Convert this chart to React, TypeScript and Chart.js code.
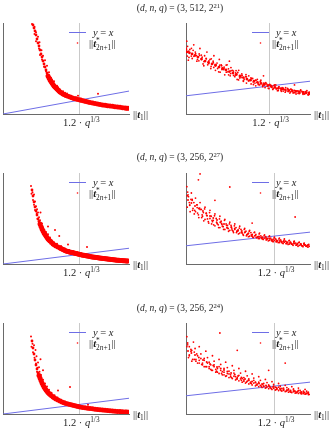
import React, { useEffect, useRef } from "react";
import { Chart, registerables } from "chart.js";
Chart.register(...registerables);

// ---------- titles ----------
const TITLE_Q_EXP = ["21", "27", "24"];
const TITLE_N = ["512", "256", "256"];

// ---------- 1.2 * q^(1/3) per row ----------
const VLINE = [153.6, 614.4, 307.2];

// ---------- Row 1 (q = 2^21) left ----------
const r1L_core: number[][] = [
  [60,979],[62,946],[64,913],[66,869],[68,825],[70,781],[72,748],[74,704],[76,660],[78,627],[80,583],[82,550],[84,517],[86,484],[88,451],[90,418],[92,396],[94,374],[96,357],[98,341],[100,324],[102,308],[104,297],[106,286],[108,275],[110,264],[112,253],[114,242],[117,231],[120,220],[123,212],[126,204],[130,195],[134,187],[138,179],[142,171],[146,165],[150,160],[154,154],[158,149],[162,143],[166,138],[170,132],[174,127],[179,121],[184,116],[189,110],[194,105],[199,100],[204,96],[209,92],[214,88],[219,84],[224,80],[229,77],[234,74],[239,70],[244,66],[247,64],[250,63]
];
const r1L_spread: number[][] = [
  [58,990],[63,960],[66,900],[63,880],[70,850],[66,800],[73,790],[72,720],[77,700],[74,650],[80,640],[78,600],[84,590],[82,520],[88,530],[86,470],[92,460],[90,400],[96,400],[94,350],[102,360],[100,320],[108,310],[106,270],[114,270],[112,240],[120,250],[118,210],[128,225],[126,190],[136,200],[134,175],[146,185],[142,160],[156,170],[154,140],[166,150],[168,128],[180,135],[178,112],[192,120],[194,98],[206,108],[206,86],[218,98],[218,78],[230,88],[232,68],[244,78],[246,58],[190,222],[150,200],[98,380],[110,295],[124,235]
];

// ---------- Row 1 right ----------
const r1R_core: number[][] = [
  [100.6,341],[102.2,336],[103.9,330],[105.8,322],[107.7,313],[110,302],[112.3,291],[114.5,283],[116.8,275],[119,266],[121.3,258],[123.5,250],[125.8,242],[128,233],[130.3,225],[132.5,217],[134.8,209],[137,200],[139.3,192],[141.6,186],[143.9,181],[146.1,174],[148.4,168],[150.6,162],[152.9,157],[155.1,151],[157.4,146],[159.6,141],[161.9,137],[164.1,133],[166.4,129],[168.6,126],[170.9,124],[173.2,121],[175.5,118],[177.4,116],[179.3,115]
];
const r1R_spread: number[][] = [
  [100.5,400],[101,372],[100.8,318],[101.5,296],[102.5,355],[104,305],[105,380],[106,340],[107,290],[108.5,330],[109,360],[110,300],[111,275],[112,320],[113.5,340],[114,270],[115.5,300],[116,250],[117.5,290],[118,320],[119,240],[120,280],[121.5,300],[122,230],[123,265],[124.5,250],[125,215],[126.5,270],[127,232],[128.5,210],[129,255],[130,240],[131.5,205],[132,226],[133,190],[134,240],[135.5,200],[136,220],[137,180],[138.5,205],[139,170],[140.5,210],[141,185],[142,165],[143,195],[144.5,170],[145,155],[146,190],[147.5,160],[148,180],[149.5,150],[150,170],[151,145],[152,165],[153.5,140],[154,160],[155,150],[156,135],[157,160],[158.5,140],[159,128],[160,150],[161.5,125],[162,145],[163,135],[164,120],[165.5,140],[166,125],[167,115],[168,135],[169.5,118],[170,130],[171,110],[172.5,125],[173,112],[174,132],[175.5,108],[176,122],[177,114],[178,128],[179,105],[179.5,120],[128,290],[150,210],[170,160]
];
const r1R_extra: number[][] = [
  [100.2,360],[101.8,345],[103.4,318],[104.6,350],[106.2,332],[107.4,300],[108.8,322],[110.4,312],[111.6,288],[113,305],[114.8,292],[116.2,262],[117.6,282],[118.8,272],[120.4,250],[121.8,268],[123.2,244],[124.6,258],[126,230],[127.4,248],[128.8,222],[130.6,236],[131.8,214],[133.4,228],[134.6,198],[136.2,212],[137.6,192],[139,204],[140.4,182],[142.2,194],[143.4,176],[145,186],[146.6,166],[148,176],[149.4,158],[151,170],[152.4,152],[154,162],[155.4,146],[156.8,155],[158.2,138],[159.8,148],[161.2,132],[162.8,142],[164.4,127],[165.8,136],[167.4,121],[168.8,131],[170.2,117],[171.8,127],[173.4,114],[174.8,124],[176.4,110],[177.8,120],[179.6,110]
];
const r1R_more: number[][] = [
  [100.3,354],[101.9,311],[103.5,361],[105.1,317],[106.7,321],[108.3,292],[109.9,324],[111.5,265],[113.1,303],[114.7,277],[116.3,303],[117.9,256],[119.5,270],[121.1,232],[122.7,270],[124.3,244],[125.9,269],[127.5,215],[129.1,238],[130.7,212],[132.3,238],[133.9,187],[135.5,210],[137.1,184],[138.7,216],[140.3,184],[141.9,199],[143.5,162],[145.1,185],[146.7,161],[148.3,186],[149.9,160],[151.5,172],[153.1,141],[154.7,158],[156.3,140],[157.9,160],[159.5,129],[161.1,142],[162.7,126],[164.3,145],[165.9,124],[167.5,137],[169.1,116],[170.7,127],[172.3,114],[173.9,130],[175.5,113],[177.1,123],[178.7,106]
];

// ---------- Row 2 (q = 2^27) left ----------
const r2L_core: number[][] = [
  [232,4736],[240,4352],[248,3968],[256,3648],[264,3392],[272,3136],[280,2880],[288,2720],[296,2560],[304,2400],[312,2240],[320,2110],[328,1984],[336,1890],[344,1792],[352,1700],[360,1600],[368,1536],[376,1472],[388,1376],[400,1280],[412,1216],[424,1152],[440,1088],[456,1024],[464,992],[472,960],[480,928],[488,896],[496,864],[504,840],[512,816],[520,800],[528,784],[536,760],[544,748],[552,736],[560,720],[568,700],[576,688],[584,672],[592,656],[600,640],[608,624],[616,608],[624,596],[632,584],[640,568],[648,556],[656,544],[664,532],[672,520],[680,508],[688,492],[696,480],[704,468],[712,456],[720,448],[728,438],[736,429],[744,420],[752,410],[760,400],[768,392],[776,384],[784,376],[792,366],[800,358],[808,348],[816,339],[824,332],[832,324],[840,316],[848,308],[856,301],[864,294],[872,286],[880,278],[888,270],[896,262],[904,256],[912,248],[920,242],[928,236],[936,230],[944,226],[952,220],[960,214],[968,210],[976,205],[984,200],[992,196],[1000,192]
];
const r2L_spread: number[][] = [
  [224,4990],[236,4600],[228,4500],[248,4450],[240,4100],[256,4000],[248,3800],[264,3700],[256,3450],[272,3500],[270,3250],[280,3300],[288,3000],[276,2900],[296,2800],[288,2650],[312,2600],[304,2400],[320,2350],[330,2200],[316,2100],[344,2050],[336,1850],[360,1900],[352,1700],[376,1700],[370,1550],[392,1500],[384,1350],[408,1400],[416,1200],[432,1300],[440,1100],[464,1150],[472,950],[496,1000],[504,850],[528,900],[536,760],[560,820],[568,690],[592,760],[600,640],[624,690],[632,580],[660,620],[668,520],[700,560],[706,450],[740,500],[748,400],[780,450],[790,360],[820,400],[830,320],[860,360],[870,280],[900,320],[910,240],[940,280],[950,210],[980,250],[990,180],[416,2176],[672,1088],[450,1800],[360,2400],[300,3300],[520,1250]
];

// ---------- Row 2 right ----------
const r2R_core: number[][] = [
  [404.8,1407],[413,1340],[421.8,1275],[431,1220],[441,1165],[449,1110],[458,1055],[466,1010],[475,967],[483,920],[492,879],[500,845],[509.5,813],[518,780],[526,747],[535,725],[543,703],[551,675],[560,648],[568,625],[576.6,604],[585,588],[593.5,571],[602,555],[610.5,538],[619,520],[627,505],[636,494],[644,484],[652,473],[661,462],[669,451],[678,440],[686,429],[695,418]
];
const r2R_spread: number[][] = [
  [402,1700],[404,1580],[403,1250],[406,1480],[408,1350],[410,1150],[413,1560],[415,1400],[417,1220],[420,1100],[423,1450],[426,1300],[428,1120],[431,1020],[434,1350],[437,1200],[440,1050],[443,950],[446,1250],[449,1120],[452,990],[455,900],[458,1180],[461,1050],[464,930],[467,860],[470,1100],[473,1000],[476,880],[479,800],[482,1050],[485,940],[488,830],[491,760],[494,980],[497,880],[500,790],[503,720],[506,920],[509,850],[512,740],[515,690],[518,880],[521,800],[524,720],[527,660],[530,830],[533,760],[536,680],[539,630],[542,780],[545,720],[548,650],[551,600],[554,740],[557,690],[560,610],[563,580],[566,700],[569,650],[572,590],[575,560],[578,680],[581,620],[584,570],[587,540],[590,640],[593,600],[596,550],[599,510],[602,620],[605,570],[608,520],[611,490],[614,590],[617,550],[620,500],[623,470],[626,570],[629,530],[632,490],[635,450],[638,550],[641,500],[644,460],[647,430],[650,520],[653,480],[656,440],[659,410],[662,500],[665,460],[668,420],[671,390],[674,480],[677,440],[680,400],[683,380],[686,460],[689,420],[692,390],[695,370],[434,1980],[506,1692],[664,1033],[430,1850],[470,1400],[560,900]
];
const r2R_extra: number[][] = [
  [405,1520],[409,1300],[412,1420],[416,1180],[419,1350],[423,1150],[427,1240],[430,1080],[434,1200],[438,1020],[442,1130],[446,980],[450,1070],[454,930],[458,1000],[462,880],[466,960],[470,840],[474,920],[478,860],[482,800],[486,890],[490,820],[494,760],[498,850],[502,780],[506,740],[510,800],[514,720],[518,760],[522,690],[526,730],[530,680],[534,700],[538,650],[542,690],[546,620],[550,660],[554,610],[558,640],[562,590],[566,620],[570,580],[574,600],[578,560],[582,590],[586,550],[590,570],[594,530],[598,560],[602,520],[606,540],[610,500],[614,520],[618,490],[622,510],[626,470],[630,500],[634,460],[638,480],[642,450],[646,470],[650,440],[654,460],[658,430],[662,450],[666,415],[670,440],[674,410],[678,425],[682,400],[686,415],[690,395],[694,405],[698,390]
];
const r2R_more: number[][] = [
  [403,1500],[409,1290],[415,1420],[421,1180],[427,1300],[433,1230],[439,1080],[445,1210],[451,1060],[457,1130],[463,960],[469,1060],[475,900],[481,990],[487,870],[493,960],[499,800],[505,880],[511,770],[517,840],[523,720],[529,790],[535,690],[541,760],[547,640],[553,720],[559,620],[565,690],[571,580],[577,660],[583,560],[589,620],[595,540],[601,600],[607,510],[613,570],[619,490],[625,550],[631,470],[637,520],[643,450],[649,510],[655,440],[661,490],[667,420],[673,470],[679,410],[685,450],[691,395],[697,430]
];

// ---------- Row 3 (q = 2^24) left ----------
const r3L_core: number[][] = [
  [116,2336],[120,2112],[124,1920],[128,1728],[132,1568],[136,1440],[140,1312],[144,1230],[148,1152],[152,1070],[156,992],[160,925],[164,864],[168,815],[172,768],[176,725],[180,688],[184,655],[188,624],[194,584],[200,544],[206,512],[212,480],[220,448],[228,416],[236,388],[244,362],[252,340],[260,320],[268,304],[276,288],[284,272],[292,256],[300,240],[308,224],[318,211],[328,198],[338,187],[348,176],[358,165],[368,154],[378,144],[388,134],[398,126],[408,118],[418,110],[428,102],[438,96],[448,90],[458,83],[468,77],[478,70],[488,64],[494,61],[500,58]
];
const r3L_spread: number[][] = [
  [112,2480],[118,2250],[114,2150],[124,2200],[120,1980],[130,2050],[126,1800],[134,1850],[132,1620],[140,1650],[138,1480],[144,1500],[146,1350],[136,1350],[152,1250],[144,1200],[160,1100],[152,1050],[168,980],[160,900],[176,880],[170,800],[184,780],[178,720],[194,680],[188,600],[206,600],[200,520],[218,530],[214,460],[232,460],[230,390],[248,400],[246,340],[264,350],[262,300],[280,320],[280,270],[296,285],[298,240],[312,250],[316,210],[332,220],[336,185],[352,195],[356,160],[372,175],[376,140],[392,150],[396,120],[412,135],[416,105],[432,115],[436,90],[452,100],[456,78],[472,88],[476,66],[492,74],[496,52],[268,864],[150,1750],[160,1400],[340,300],[220,750]
];

// ---------- Row 3 right ----------
const r3R_core: number[][] = [
  [202.4,692],[206.5,670],[210.9,648],[215.5,620],[220.6,593],[225,572],[229,550],[233,534],[237.5,517],[242,500],[246,484],[250,468],[254.5,451],[259,435],[263,418],[267,402],[271.4,385],[275.5,371],[279.9,357],[284,346],[288.3,335],[292.5,324],[296.8,313],[301,305],[305.3,297],[309.5,288],[313.7,280],[318,272],[322.2,264],[326.5,258],[330.7,253],[335,247],[339.2,242],[343.5,236],[347.6,231]
];
const r3R_spread: number[][] = [
  [201,850],[202,780],[203,620],[204,740],[206,690],[207,580],[209,790],[211,720],[212,600],[214,560],[216,740],[218,660],[220,560],[222,520],[224,690],[226,620],[228,520],[230,490],[232,640],[234,580],[236,490],[238,460],[240,600],[242,545],[244,465],[246,430],[248,570],[250,510],[252,440],[254,410],[256,530],[258,480],[260,410],[262,385],[264,500],[266,450],[268,390],[270,360],[272,470],[274,420],[276,370],[278,340],[280,440],[282,395],[284,350],[286,320],[288,410],[290,370],[292,330],[294,305],[296,380],[298,345],[300,310],[302,290],[304,355],[306,325],[308,295],[310,275],[312,335],[314,305],[316,280],[318,260],[320,315],[322,290],[324,265],[326,245],[328,300],[330,275],[332,250],[334,235],[336,285],[338,260],[340,240],[342,225],[344,270],[346,250],[348,230],[349,215],[199,835],[241,890],[320,560],[262,700],[300,480]
];
const r3R_extra: number[][] = [
  [202,760],[204,650],[206,710],[208,600],[210,680],[212,580],[214,640],[216,560],[218,610],[220,540],[222,590],[224,520],[226,560],[228,500],[230,540],[232,480],[234,520],[236,460],[238,500],[240,445],[242,480],[244,430],[246,460],[248,415],[250,445],[252,400],[254,430],[256,390],[258,415],[260,375],[262,400],[264,365],[266,385],[268,350],[270,375],[272,340],[274,360],[276,330],[278,350],[280,320],[282,340],[284,310],[286,330],[288,300],[290,315],[292,292],[294,305],[296,285],[298,298],[300,278],[302,290],[304,270],[306,282],[308,264],[310,276],[312,258],[314,268],[316,252],[318,262],[320,246],[322,256],[324,240],[326,250],[328,236],[330,245],[332,230],[334,240],[336,226],[338,236],[340,222],[342,232],[344,218],[346,228],[348,214]
];
const r3R_more: number[][] = [
  [201,740],[204,640],[207,700],[210,600],[213,660],[216,590],[219,545],[222,610],[225,520],[228,570],[231,480],[234,540],[237,470],[240,520],[243,445],[246,500],[249,420],[252,470],[255,400],[258,450],[261,385],[264,425],[267,370],[270,400],[273,350],[276,385],[279,335],[282,370],[285,320],[288,350],[291,305],[294,335],[297,290],[300,320],[303,280],[306,305],[309,268],[312,295],[315,258],[318,285],[321,250],[324,275],[327,240],[330,265],[333,232],[336,258],[339,225],[342,250],[345,220],[348,240]
];

// ---------- axis ranges ----------
const X_RANGE_L = [[0, 252], [0, 1008], [0, 504]];
const Y_RANGE_L = [[0, 1001], [0, 5824], [0, 2912]];
const X_RANGE_R = [[100, 180], [400, 700], [200, 350]];
const Y_RANGE_R = [[0, 500], [0, 2000], [0, 1000]];

const RED = "#ff0000";
const BLUE = "#6e6ee6";
const AXIS = "#6a6a6a";
const TEXT = "#1e1e1e";
const FONT = '"Liberation Serif", "DejaVu Serif", serif';

type Seg = { t: string; f?: "i" | "bi"; p?: "sup" | "sub"; back?: boolean };

function drawRich(ctx: CanvasRenderingContext2D, segs: Seg[], x: number, y: number, align: "left" | "center", size: number) {
  const placed: { t: string; font: string; x: number; dy: number }[] = [];
  let cur = 0, end = 0, lastStart = 0;
  for (const s of segs) {
    const sz = s.p ? size * 0.7 : size;
    const font = `${s.f === "i" ? "italic " : s.f === "bi" ? "italic bold " : ""}${sz}px ${FONT}`;
    ctx.font = font;
    const w = ctx.measureText(s.t).width;
    if (s.back) cur = lastStart;
    else if (!s.p) cur = Math.max(cur, end);
    const start = cur;
    const dy = s.p === "sup" ? -size * 0.38 : s.p === "sub" ? size * 0.24 : 0;
    placed.push({ t: s.t, font, x: start, dy });
    lastStart = start;
    cur = start + w;
    end = Math.max(end, cur);
  }
  const ox = align === "center" ? x - end / 2 : x;
  ctx.fillStyle = TEXT;
  ctx.textBaseline = "alphabetic";
  ctx.textAlign = "left";
  for (const p of placed) {
    ctx.font = p.font;
    ctx.fillText(p.t, ox + p.x, y + p.dy);
  }
}

const panelText = {
  id: "panelText",
  afterDraw(chart: any, _args: any, opts: any) {
    const { ctx, chartArea: a, scales } = chart;
    const sz = 10.5;
    ctx.save();
    // legend: line sample
    ctx.strokeStyle = BLUE;
    ctx.lineWidth = 1;
    ctx.beginPath();
    ctx.moveTo(a.left + 66, a.top + 9.5);
    ctx.lineTo(a.left + 83, a.top + 9.5);
    ctx.stroke();
    drawRich(ctx, [{ t: "y", f: "i" }, { t: " = " }, { t: "x", f: "i" }], a.left + 90, a.top + 13, "left", sz);
    // legend: scatter sample
    ctx.fillStyle = RED;
    ctx.beginPath();
    ctx.arc(a.left + 74.5, a.top + 20, 0.8, 0, Math.PI * 2);
    ctx.fill();
    drawRich(ctx, [
      { t: "||" }, { t: "t", f: "bi" }, { t: "*", p: "sup" },
      { t: "2", p: "sub", back: true }, { t: "n", p: "sub", f: "i" }, { t: "+1", p: "sub" },
      { t: "||" },
    ], a.left + 86, a.top + 24, "left", sz);
    // x-axis label
    drawRich(ctx, [{ t: "||" }, { t: "t", f: "bi" }, { t: "1", p: "sub" }, { t: "||" }], a.right + 4, a.bottom + 3.5, "left", sz);
    // tick label under the vertical line
    const px = scales.x.getPixelForValue(opts.v);
    drawRich(ctx, [{ t: "1.2" }, { t: " \u00b7 " }, { t: "q", f: "i" }, { t: "1/3", p: "sup" }], px + 1.5, a.bottom + 11.5, "center", sz);
    ctx.restore();
  },
};

type PanelCfg = {
  left: number; top: number; w: number; h: number;
  pl: number; pr: number; pb: number;
  xr: number[]; yr: number[]; v: number;
  core: number[][]; spread: number[][]; coreR: number; upperR: number; spreadR: number;
};

function Panel({ cfg }: { cfg: PanelCfg }) {
  const ref = useRef<HTMLCanvasElement>(null);
  useEffect(() => {
    const toPts = (arr: number[][]) => arr.map(([x, y]) => ({ x, y }));
    const span = cfg.yr[1] - cfg.yr[0];
    const coreRadius = (c: any) => {
      const raw = c.raw;
      if (!raw) return cfg.coreR;
      return (raw.y - cfg.yr[0]) / span > 0.45 ? cfg.upperR : cfg.coreR;
    };
    const chart = new Chart(ref.current as HTMLCanvasElement, {
      type: "scatter",
      data: {
        datasets: [
          { data: toPts(cfg.core), backgroundColor: RED, borderWidth: 0, pointRadius: coreRadius, pointHoverRadius: 0 } as any,
          { data: toPts(cfg.spread), backgroundColor: RED, borderWidth: 0, pointRadius: cfg.spreadR, pointHoverRadius: 0 } as any,
          {
            data: [{ x: cfg.xr[0], y: cfg.xr[0] }, { x: cfg.xr[1], y: cfg.xr[1] }],
            showLine: true, borderColor: BLUE, borderWidth: 1, pointRadius: 0, pointHoverRadius: 0,
          } as any,
        ],
      },
      options: {
        responsive: false,
        maintainAspectRatio: false,
        animation: false,
        events: [],
        layout: { padding: { left: cfg.pl, right: cfg.pr, top: 23, bottom: cfg.pb } },
        plugins: {
          legend: { display: false },
          tooltip: { enabled: false },
          panelText: { v: cfg.v },
        } as any,
        scales: {
          x: {
            type: "linear", min: cfg.xr[0], max: cfg.xr[1],
            afterBuildTicks: (s: any) => { s.ticks = [{ value: cfg.v }]; },
            ticks: { display: false },
            grid: { display: true, drawTicks: false, color: "#c9c9c9", lineWidth: 1 },
            border: { display: true, color: AXIS, width: 1 },
          },
          y: {
            type: "linear", min: cfg.yr[0], max: cfg.yr[1],
            ticks: { display: false },
            grid: { display: false, drawTicks: false },
            border: { display: true, color: AXIS, width: 1 },
          },
        } as any,
      },
      plugins: [panelText as any],
    });
    return () => chart.destroy();
  }, []);
  return (
    <canvas
      ref={ref}
      width={cfg.w}
      height={cfg.h}
      style={{ position: "absolute", left: cfg.left, top: cfg.top, width: cfg.w, height: cfg.h }}
    />
  );
}

const CORES_L = [r1L_core, r2L_core, r3L_core];
const SPREADS_L = [r1L_spread, r2L_spread, r3L_spread];
const CORES_R = [r1R_core, r2R_core, r3R_core];
const SPREADS_R = [
  r1R_spread.concat(r1R_extra, r1R_more),
  r2R_spread.concat(r2R_extra, r2R_more),
  r3R_spread.concat(r3R_extra, r3R_more),
];

export default function App() {
  const panels: PanelCfg[] = [];
  for (let r = 0; r < 3; r++) {
    const h = r === 2 ? 133 : 150;
    const pb = h - 114;
    panels.push({
      left: 0, top: r * 150, w: 167, h, pl: 3, pr: 38, pb,
      xr: X_RANGE_L[r], yr: Y_RANGE_L[r], v: VLINE[r],
      core: CORES_L[r], spread: SPREADS_L[r], coreR: 2.5, upperR: 1.4, spreadR: 1,
    });
    const rr = r === 0 ? 1.4 : 1.0;
    panels.push({
      left: 167, top: r * 150, w: 168, h, pl: 19, pr: 25, pb,
      xr: X_RANGE_R[r], yr: Y_RANGE_R[r], v: VLINE[r],
      core: CORES_R[r], spread: SPREADS_R[r], coreR: rr, upperR: rr, spreadR: 0.9,
    });
  }
  const titleTops = [3, 152, 303];
  return (
    <div style={{ position: "absolute", left: 0, top: 0, width: 335, height: 433, overflow: "hidden", background: "#fff" }}>
      {panels.map((p, i) => <Panel key={i} cfg={p} />)}
      {titleTops.map((t, r) => (
        <div
          key={"t" + r}
          style={{
            position: "absolute", left: 180, top: t, transform: "translateX(-50%)",
            whiteSpace: "nowrap", fontFamily: FONT, fontSize: 9.5, lineHeight: "10px", color: TEXT,
          }}
        >
          (<i>d</i>, <i>n</i>, <i>q</i>) = (3, {TITLE_N[r]}, 2
          <span style={{ fontSize: "0.7em", position: "relative", top: "-0.45em" }}>{TITLE_Q_EXP[r]}</span>)
        </div>
      ))}
    </div>
  );
}
